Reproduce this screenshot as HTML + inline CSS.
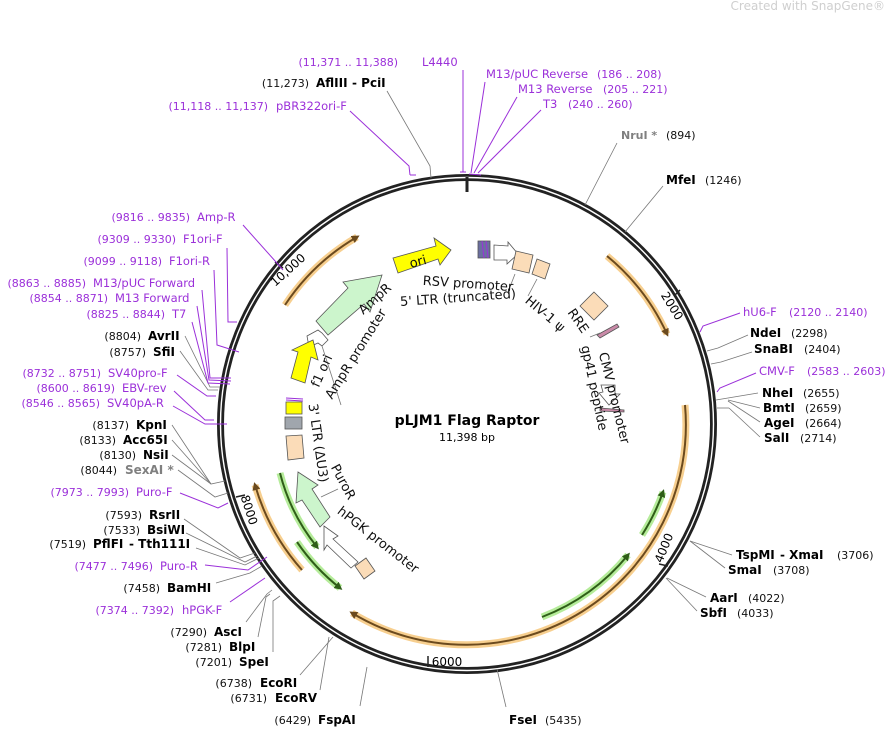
<!DOCTYPE html>
<html><head><meta charset="utf-8"><style>
html,body{margin:0;padding:0;background:#fff;}
svg{display:block;font-family:"DejaVu Sans","Liberation Sans",sans-serif;}
.p{fill:#9b30d9;font-size:11px;}
.q{fill:#9b30d9;font-size:11.5px;}
.n{fill:#111;font-size:11px;}
.b{fill:#000;font-size:12px;font-weight:bold;}
.g{fill:#808080;font-size:12px;font-weight:bold;}
.f{fill:#111;font-size:13px;}
.ln{stroke:#777;stroke-width:0.8;fill:none;}
.pl{stroke:#9b30d9;stroke-width:1;fill:none;}
</style></head><body>
<svg width="894" height="729" viewBox="0 0 894 729" xmlns="http://www.w3.org/2000/svg">
<defs>
<marker id="ao" markerWidth="8" markerHeight="8" refX="5" refY="4" orient="auto" markerUnits="userSpaceOnUse"><path d="M0,0 L8,4 L0,8 z" fill="#6b4a1e"/></marker>
<marker id="ag" markerWidth="8" markerHeight="8" refX="5" refY="4" orient="auto" markerUnits="userSpaceOnUse"><path d="M0,0 L8,4 L0,8 z" fill="#2f5e18"/></marker>
</defs>
<text x="885" y="10" text-anchor="end" style="font-size:12px;fill:#cfcfcf">Created with SnapGene®</text>

<circle cx="467" cy="424" r="246.5" fill="none" stroke="#222" stroke-width="7"/>
<circle cx="467" cy="424" r="246.5" fill="none" stroke="#fff" stroke-width="1.4"/>
<line x1="467" y1="177" x2="467" y2="192" stroke="#222" stroke-width="3"/>

<g fill="none">
<path d="M285,305 A218,218 0 0 1 357,237" stroke="#f7cf8f" stroke-width="7"/>
<path d="M285,305 A218,218 0 0 1 357,237" stroke="#6b4a1e" stroke-width="2" marker-end="url(#ao)"/>
<path d="M607,256 A219,219 0 0 1 667,334" stroke="#f7cf8f" stroke-width="7"/>
<path d="M607,256 A219,219 0 0 1 667,334" stroke="#6b4a1e" stroke-width="2" marker-end="url(#ao)"/>
<path d="M685,405 A220,220 0 0 1 352,613" stroke="#f7cf8f" stroke-width="7"/>
<path d="M685,405 A220,220 0 0 1 352,613" stroke="#6b4a1e" stroke-width="2" marker-end="url(#ao)"/>
<path d="M302,570 A220,220 0 0 1 255,485" stroke="#f7cf8f" stroke-width="7"/>
<path d="M302,570 A220,220 0 0 1 255,485" stroke="#6b4a1e" stroke-width="2" marker-end="url(#ao)"/>
<path d="M280,473 A194,194 0 0 0 317,547" stroke="#b5ec9a" stroke-width="7"/>
<path d="M280,473 A194,194 0 0 0 317,547" stroke="#2f5e18" stroke-width="2" marker-end="url(#ag)"/>
<path d="M297,542 A207,207 0 0 0 340,588" stroke="#b5ec9a" stroke-width="7"/>
<path d="M297,542 A207,207 0 0 0 340,588" stroke="#2f5e18" stroke-width="2" marker-end="url(#ag)"/>
<path d="M542,617 A207,207 0 0 0 628,555" stroke="#b5ec9a" stroke-width="7"/>
<path d="M542,617 A207,207 0 0 0 628,555" stroke="#2f5e18" stroke-width="2" marker-end="url(#ag)"/>
<path d="M642,535 A207,207 0 0 0 663,492" stroke="#b5ec9a" stroke-width="7"/>
<path d="M642,535 A207,207 0 0 0 663,492" stroke="#2f5e18" stroke-width="2" marker-end="url(#ag)"/>
</g>

<g stroke="#555" stroke-width="0.8">
<polygon points="393,258 436,246 434,238 451,250 440,265 438,259 398,273" fill="#ffff00"/>
<polygon points="316,321 348,288 343,282 382,275 370,312 364,304 328,335" fill="#ccf5cc"/>
<polygon points="307,336 318,330 322,333 328,340 322,346 318,343 309,347" fill="#fff"/>
<polygon points="291,378 298,352 292,350 313,340 318,360 311,357 305,383" fill="#ffff00"/>
<rect x="286" y="402" width="16" height="12" fill="#ffff00"/>
<rect x="285" y="417" width="17" height="12" fill="#a0a6ad"/>
<polygon points="286,436 302,435 304,458 288,460" fill="#fbdcb8"/>
<polygon points="298,472 318,485 312,489 330,517 320,527 302,500 296,503" fill="#ccf5cc"/>
<polygon points="324,526 338,536 333,539 358,562 351,568 327,545 324,550" fill="#fff"/>
<polygon points="355,566 366,558 375,571 364,579" fill="#fbdcb8"/>
<rect x="478" y="241" width="12" height="17" fill="#6b6fa0"/>
<polygon points="494,245 508,246 508,242 518,254 507,264 507,260 494,260" fill="#fff"/>
<polygon points="516,251 533,255 529,273 512,269" fill="#fbdcb8"/>
<polygon points="537,259 550,264 545,279 532,274" fill="#fbdcb8"/>
<polygon points="594,292 608,306 594,320 580,306" fill="#fbdcb8"/>
<polygon points="597,335 617,324 619,327 600,338" fill="#c98aa8"/>
<polygon points="601,385 615,385 615,394 620,394 609,405 599,393 603,392" fill="#fff"/>
<polygon points="600,408 624,410 624,412 600,411" fill="#c98aa8"/>
</g>
<g stroke="#9b30d9" stroke-width="1"><line x1="286" y1="398" x2="303" y2="399"/><line x1="286" y1="400" x2="303" y2="401"/><line x1="482" y1="241" x2="484" y2="258"/><line x1="486" y1="241" x2="488" y2="258"/></g>
<g class="ln"><line x1="508" y1="292" x2="515" y2="274"/><line x1="528" y1="296" x2="537" y2="279"/><line x1="590" y1="337" x2="600" y2="333"/><line x1="338" y1="489" x2="321" y2="497"/><line x1="341" y1="405" x2="322" y2="346"/></g>

<text class="f" x="418" y="266" text-anchor="middle" transform="rotate(-15 418 262)">ori</text>
<text class="f" x="468" y="288" text-anchor="middle" transform="rotate(4 468 284)">RSV promoter</text>
<text class="f" x="458" y="302" text-anchor="middle" transform="rotate(-4 458 298)">5' LTR (truncated)</text>
<text class="f" x="375" y="303" text-anchor="middle" transform="rotate(-42 375 299)">AmpR</text>
<text class="f" x="356" y="358" text-anchor="middle" transform="rotate(-58 356 354)">AmpR promoter</text>
<text class="f" x="322" y="375" text-anchor="middle" transform="rotate(-66 322 371)">f1 ori</text>
<text class="f" x="545" y="318" text-anchor="middle" transform="rotate(40 545 314)">HIV-1 ψ</text>
<text class="f" x="578" y="325" text-anchor="middle" transform="rotate(55 578 321)">RRE</text>
<text class="f" x="614" y="402" text-anchor="middle" transform="rotate(76 614 398)">CMV promoter</text>
<text class="f" x="594" y="392" text-anchor="middle" transform="rotate(78 594 388)">gp41 peptide</text>
<text class="f" x="318" y="447" text-anchor="middle" transform="rotate(82 318 443)">3' LTR (ΔU3)</text>
<text class="f" x="343" y="486" text-anchor="middle" transform="rotate(62 343 482)">PuroR</text>
<text class="f" x="378" y="544" text-anchor="middle" transform="rotate(38 378 540)">hPGK promoter</text>
<text x="467" y="425" text-anchor="middle" style="font-size:14px;font-weight:bold">pLJM1 Flag Raptor</text>
<text x="467" y="441" text-anchor="middle" style="font-size:11px">11,398 bp</text>

<g style="font-size:12px">
<text x="288" y="274" text-anchor="middle" transform="rotate(-42 288 270)">10,000</text>
<text x="672" y="310" text-anchor="middle" transform="rotate(58 672 306)">2000</text>
<text x="664" y="552" text-anchor="middle" transform="rotate(-68 664 548)">4000</text>
<text x="447" y="666" text-anchor="middle">6000</text>
<text x="249" y="514" text-anchor="middle" transform="rotate(72 249 510)">8000</text>
</g>
<g stroke="#222" stroke-width="1.5"><line x1="275" y1="262" x2="283" y2="268"/><line x1="680" y1="290" x2="674" y2="296"/><line x1="659" y1="564" x2="668" y2="566"/><line x1="428" y1="656" x2="428" y2="667"/><line x1="236" y1="497" x2="245" y2="495"/></g>

<text class="p" x="398" y="66" text-anchor="end">(11,371 .. 11,388)</text><text class="q" x="422" y="66">L4440</text>
<line class="pl" x1="463" y1="70" x2="463" y2="172"/><line class="pl" x1="460" y1="172" x2="466" y2="172"/>
<text class="n" x="309" y="87" text-anchor="end">(11,273)</text><text class="b" x="316" y="87">AflIII</text><text class="b" x="352" y="87">- PciI</text>
<polyline class="ln" points="387,91 430,166 431,178"/>
<text class="p" x="268" y="110" text-anchor="end">(11,118 .. 11,137)</text><text class="q" x="276" y="110">pBR322ori-F</text>
<polyline class="pl" points="350,111 409,166 410,175"/><line class="pl" x1="410" y1="175" x2="416" y2="175"/>
<text class="q" x="486" y="78">M13/pUC Reverse</text><text class="p" x="597" y="78">(186 .. 208)</text>
<text class="q" x="518" y="93">M13 Reverse</text><text class="p" x="603" y="93">(205 .. 221)</text>
<text class="q" x="543" y="108">T3</text><text class="p" x="568" y="108">(240 .. 260)</text>
<polyline class="pl" points="485,82 471,173"/><polyline class="pl" points="517,97 474,173"/><polyline class="pl" points="541,110 478,173"/>
<line class="pl" x1="469" y1="174" x2="481" y2="175"/>
<text class="g" x="621" y="139" style="font-size:11px">NruI *</text><text class="n" x="666" y="139">(894)</text>
<line class="ln" x1="617" y1="143" x2="585" y2="205"/>
<text class="b" x="666" y="184">MfeI</text><text class="n" x="705" y="184">(1246)</text>
<line class="ln" x1="663" y1="186" x2="625" y2="232"/>

<text class="q" x="743" y="316">hU6-F</text><text class="p" x="789" y="316">(2120 .. 2140)</text>
<polyline class="pl" points="740,313 703,326 700,332"/>
<text class="b" x="750" y="337">NdeI</text><text class="n" x="791" y="337">(2298)</text>
<polyline class="ln" points="748,335 718,348 707,351"/>
<text class="b" x="754" y="353">SnaBI</text><text class="n" x="804" y="353">(2404)</text>
<polyline class="ln" points="752,352 721,362 711,364"/>
<text class="q" x="759" y="375">CMV-F</text><text class="p" x="807" y="375">(2583 .. 2603)</text>
<polyline class="pl" points="756,373 720,388 717,392"/>
<text class="b" x="762" y="397">NheI</text><text class="n" x="803" y="397">(2655)</text>
<text class="b" x="763" y="412">BmtI</text><text class="n" x="805" y="412">(2659)</text>
<text class="b" x="764" y="427">AgeI</text><text class="n" x="805" y="427">(2664)</text>
<text class="b" x="764" y="442">SalI</text><text class="n" x="800" y="442">(2714)</text>
<g class="ln"><line x1="758" y1="393" x2="716" y2="400"/><line x1="760" y1="408" x2="728" y2="400"/><line x1="760" y1="422" x2="728" y2="401"/><line x1="760" y1="437" x2="729" y2="408"/><line x1="729" y1="408" x2="717" y2="408"/></g>
<text class="b" x="736" y="559">TspMI</text><text class="b" x="780" y="559">- XmaI</text><text class="n" x="837" y="559">(3706)</text>
<text class="b" x="728" y="574">SmaI</text><text class="n" x="773" y="574">(3708)</text>
<g class="ln"><line x1="732" y1="555" x2="690" y2="541"/><line x1="725" y1="568" x2="690" y2="541"/></g>
<text class="b" x="710" y="602">AarI</text><text class="n" x="748" y="602">(4022)</text>
<text class="b" x="700" y="617">SbfI</text><text class="n" x="737" y="617">(4033)</text>
<g class="ln"><line x1="706" y1="597" x2="667" y2="578"/><line x1="697" y1="611" x2="666" y2="578"/></g>
<text class="b" x="509" y="724">FseI</text><text class="n" x="545" y="724">(5435)</text>
<line class="ln" x1="506" y1="707" x2="497" y2="669"/>

<text class="n" x="311" y="724" text-anchor="end">(6429)</text><text class="b" x="318" y="724">FspAI</text>
<line class="ln" x1="360" y1="706" x2="367" y2="667"/>
<text class="n" x="252" y="687" text-anchor="end">(6738)</text><text class="b" x="260" y="687">EcoRI</text>
<text class="n" x="267" y="702" text-anchor="end">(6731)</text><text class="b" x="275" y="702">EcoRV</text>
<g class="ln"><line x1="300" y1="675" x2="333" y2="637"/><line x1="320" y1="690" x2="329" y2="637"/></g>
<text class="n" x="207" y="636" text-anchor="end">(7290)</text><text class="b" x="214" y="636">AscI</text>
<text class="n" x="222" y="651" text-anchor="end">(7281)</text><text class="b" x="229" y="651">BlpI</text>
<text class="n" x="232" y="666" text-anchor="end">(7201)</text><text class="b" x="239" y="666">SpeI</text>
<g class="ln"><polyline points="246,622 267,594 272,590"/><polyline points="258,637 266,597 270,594"/><polyline points="273,652 273,601 280,596"/></g>
<text class="p" x="174" y="614" text-anchor="end">(7374 .. 7392)</text><text class="q" x="182" y="614">hPGK-F</text>
<polyline class="pl" points="230,602 265,578"/>
<text class="n" x="160" y="592" text-anchor="end">(7458)</text><text class="b" x="167" y="592">BamHI</text>
<polyline class="ln" points="216,583 250,573 262,566"/>
<text class="p" x="153" y="570" text-anchor="end">(7477 .. 7496)</text><text class="q" x="160" y="570">Puro-R</text>
<polyline class="pl" points="205,565 248,570 267,557"/>
<text class="n" x="142" y="519" text-anchor="end">(7593)</text><text class="b" x="149" y="519">RsrII</text>
<text class="n" x="140" y="534" text-anchor="end">(7533)</text><text class="b" x="147" y="534">BsiWI</text>
<text class="n" x="86" y="548" text-anchor="end">(7519)</text><text class="b" x="93" y="548">PflFI</text><text class="b" x="129" y="548">- Tth111I</text>
<g class="ln"><polyline points="184,519 240,558 255,553"/><polyline points="186,533 245,562 257,556"/><polyline points="196,548 245,565 259,558"/></g>
<text class="p" x="129" y="496" text-anchor="end">(7973 .. 7993)</text><text class="q" x="136" y="496">Puro-F</text>
<polyline class="pl" points="180,493 218,508 228,503"/>
<text class="n" x="129" y="429" text-anchor="end">(8137)</text><text class="b" x="136" y="429">KpnI</text>
<text class="n" x="116" y="444" text-anchor="end">(8133)</text><text class="b" x="123" y="444">Acc65I</text>
<text class="n" x="136" y="459" text-anchor="end">(8130)</text><text class="b" x="143" y="459">NsiI</text>
<text class="n" x="117" y="474" text-anchor="end">(8044)</text><text class="g" x="125" y="474">SexAI *</text>
<g class="ln"><polyline points="172,425 211,484 225,481"/><polyline points="172,440 211,484"/><polyline points="172,455 211,484"/><polyline points="178,470 215,497 228,493"/></g>
<text class="p" x="100" y="407" text-anchor="end">(8546 .. 8565)</text><text class="q" x="107" y="407">SV40pA-R</text>
<text class="p" x="115" y="392" text-anchor="end">(8600 .. 8619)</text><text class="q" x="122" y="392">EBV-rev</text>
<text class="p" x="101" y="377" text-anchor="end">(8732 .. 8751)</text><text class="q" x="108" y="377">SV40pro-F</text>
<g class="pl"><polyline points="173,406 205,424 227,424"/><polyline points="174,391 205,420 214,420"/><polyline points="177,375 207,396 216,396"/></g>
<text class="n" x="146" y="356" text-anchor="end">(8757)</text><text class="b" x="153" y="356">SfiI</text>
<text class="n" x="141" y="340" text-anchor="end">(8804)</text><text class="b" x="148" y="340">AvrII</text>
<g class="ln"><polyline points="180,351 208,390 218,390"/><polyline points="185,336 210,387 220,387"/></g>
<text class="p" x="165" y="318" text-anchor="end">(8825 .. 8844)</text><text class="q" x="172" y="318">T7</text>
<text class="p" x="108" y="302" text-anchor="end">(8854 .. 8871)</text><text class="q" x="115" y="302">M13 Forward</text>
<text class="p" x="86" y="287" text-anchor="end">(8863 .. 8885)</text><text class="q" x="93" y="287">M13/pUC Forward</text>
<g class="pl"><polyline points="192,322 208,383 230,384"/><polyline points="197,306 209,380 231,381"/><polyline points="202,290 210,378 231,378"/></g>
<text class="p" x="162" y="265" text-anchor="end">(9099 .. 9118)</text><text class="q" x="169" y="265">F1ori-R</text>
<text class="p" x="176" y="243" text-anchor="end">(9309 .. 9330)</text><text class="q" x="183" y="243">F1ori-F</text>
<text class="p" x="190" y="221" text-anchor="end">(9816 .. 9835)</text><text class="q" x="197" y="221">Amp-R</text>
<g class="pl"><polyline points="214,270 217,345 239,352"/><polyline points="227,248 228,322 237,322"/><polyline points="243,225 276,262 283,270"/></g>
</svg>
</body></html>
